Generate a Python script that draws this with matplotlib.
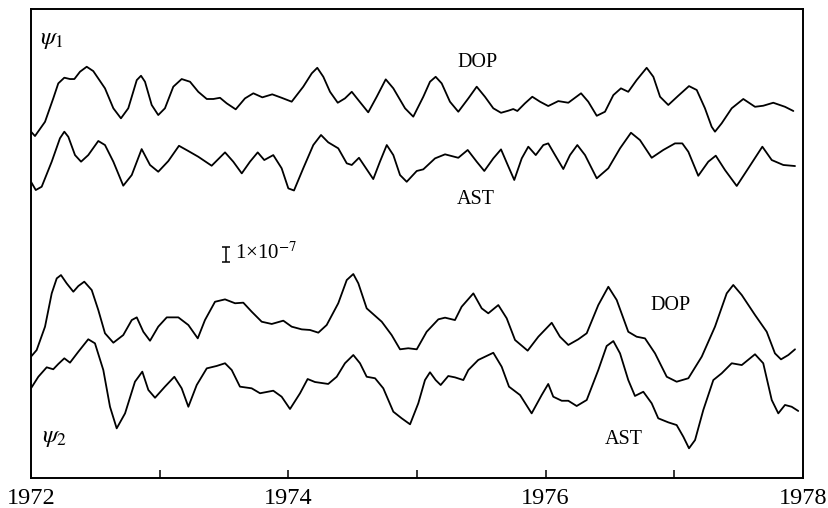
import numpy as np
import matplotlib
matplotlib.use("Agg")
import matplotlib.pyplot as plt

plt.rcParams['font.family'] = ['Liberation Serif', 'DejaVu Serif']
plt.rcParams['mathtext.fontset'] = 'stix'

t0 = 1972  # time axis: years since 1972, values in units of 1e-7 (curves offset)

# psi_1, DOP
dop1_t = [0.000, 0.031, 0.109, 0.173, 0.212, 0.259, 0.303, 0.337, 0.381, 0.433, 0.484, 0.575,
          0.640, 0.699, 0.756, 0.822, 0.855, 0.886, 0.938, 0.989, 1.041, 1.106, 1.171, 1.236,
          1.300, 1.366, 1.417, 1.469, 1.521, 1.591, 1.663, 1.728, 1.798, 1.875, 1.948, 2.026,
          2.116, 2.182, 2.225, 2.272, 2.324, 2.384, 2.440, 2.493, 2.544, 2.621, 2.687, 2.757,
          2.816, 2.907, 2.971, 3.049, 3.101, 3.145, 3.192, 3.256, 3.321, 3.399, 3.464, 3.528,
          3.593, 3.653, 3.710, 3.748, 3.780, 3.839, 3.896, 3.956, 4.020, 4.098, 4.176, 4.275,
          4.331, 4.397, 4.461, 4.526, 4.585, 4.642, 4.707, 4.785, 4.837, 4.889, 4.953, 5.031,
          5.114, 5.174, 5.238, 5.290, 5.316, 5.368, 5.446, 5.536, 5.627, 5.691, 5.769, 5.860, 5.925]
dop1_v = [23.09, 22.80, 23.75, 25.31, 26.31, 26.69, 26.60, 26.60, 27.09, 27.42, 27.13, 25.98,
          24.65, 23.98, 24.65, 26.53, 26.82, 26.42, 24.87, 24.20, 24.65, 26.09, 26.60, 26.42,
          25.75, 25.27, 25.27, 25.35, 24.98, 24.58, 25.31, 25.65, 25.38, 25.58, 25.35, 25.09,
          26.09, 26.98, 27.35, 26.75, 25.75, 25.02, 25.31, 25.75, 25.20, 24.38, 25.42, 26.58,
          25.98, 24.65, 24.09, 25.42, 26.42, 26.75, 26.31, 25.09, 24.42, 25.31, 26.09, 25.42,
          24.65, 24.35, 24.49, 24.60, 24.47, 24.98, 25.42, 25.09, 24.80, 25.13, 25.02, 25.65,
          25.09, 24.15, 24.42, 25.53, 25.98, 25.75, 26.53, 27.35, 26.75, 25.42, 24.87, 25.49,
          26.13, 25.87, 24.65, 23.42, 23.09, 23.65, 24.65, 25.27, 24.75, 24.82, 25.02, 24.75, 24.47]

# psi_1, AST
ast1_t = [0.000, 0.037, 0.083, 0.161, 0.225, 0.259, 0.290, 0.342, 0.389, 0.445, 0.523, 0.575,
          0.640, 0.717, 0.783, 0.860, 0.925, 0.989, 1.067, 1.150, 1.223, 1.300, 1.404, 1.508,
          1.572, 1.638, 1.702, 1.762, 1.813, 1.883, 1.948, 2.000, 2.044,
          2.116, 2.194, 2.254, 2.310, 2.388, 2.454, 2.493, 2.549, 2.596, 2.660, 2.712, 2.765,
          2.816, 2.868, 2.920, 2.998, 3.049, 3.140, 3.218, 3.321, 3.394, 3.464, 3.523, 3.593,
          3.653, 3.705, 3.756, 3.814, 3.865, 3.923, 3.982, 4.020, 4.073,
          4.137, 4.189, 4.246, 4.306, 4.397, 4.487, 4.578, 4.663, 4.733, 4.824, 4.914, 5.005,
          5.062, 5.109, 5.186, 5.264, 5.322, 5.394, 5.485, 5.575, 5.684, 5.757, 5.847, 5.938]
ast1_v = [19.75, 19.20, 19.42, 21.09, 22.65, 23.09, 22.75, 21.53, 21.09, 21.53, 22.47, 22.20,
          21.09, 19.49, 20.20, 21.93, 20.87, 20.42, 21.13, 22.15, 21.80, 21.42, 20.82, 21.71,
          21.09, 20.31, 21.09, 21.71, 21.20, 21.53, 20.65, 19.31, 19.17,
          20.65, 22.20, 22.87, 22.38, 21.98, 20.98, 20.87, 21.35, 20.75, 19.93, 21.09, 22.20,
          21.53, 20.20, 19.75, 20.47, 20.58, 21.31, 21.58, 21.35, 21.87, 21.09, 20.47, 21.31,
          21.91, 20.87, 19.87, 21.31, 22.09, 21.53, 22.20, 22.31, 21.53,
          20.60, 21.53, 22.20, 21.53, 19.98, 20.65, 21.98, 23.02, 22.53, 21.35, 21.87, 22.31,
          22.31, 21.75, 20.15, 21.09, 21.49, 20.53, 19.47, 20.65, 22.09, 21.20, 20.87, 20.80]

# psi_2, DOP
dop2_t = [0.000, 0.044, 0.109, 0.161, 0.200, 0.233, 0.277, 0.329, 0.368, 0.414, 0.472, 0.523,
          0.575, 0.640, 0.717, 0.783, 0.822, 0.873, 0.925, 0.989, 1.055, 1.145, 1.223, 1.296,
          1.352, 1.430, 1.508, 1.586, 1.650, 1.715, 1.793, 1.871, 1.961, 2.026,
          2.104, 2.168, 2.233, 2.298, 2.388, 2.454, 2.505, 2.544, 2.609, 2.726, 2.803, 2.868,
          2.932, 2.998, 3.075, 3.166, 3.218, 3.295, 3.347, 3.438, 3.503, 3.554, 3.632, 3.697,
          3.762, 3.860, 3.943, 4.047,
          4.111, 4.176, 4.254, 4.319, 4.409, 4.487, 4.552, 4.642, 4.707, 4.772, 4.850, 4.941,
          5.018, 5.109, 5.213, 5.316, 5.407, 5.458, 5.524, 5.627, 5.718, 5.782, 5.829, 5.886, 5.938]
dop2_v = [8.09, 8.53, 10.09, 12.31, 13.31, 13.53, 12.98, 12.42, 12.80, 13.09, 12.53, 11.20,
          9.65, 9.02, 9.53, 10.53, 10.71, 9.75, 9.15, 10.09, 10.71, 10.71, 10.20, 9.31,
          10.53, 11.75, 11.91, 11.65, 11.69, 11.09, 10.42, 10.27, 10.49, 10.09,
          9.91, 9.87, 9.69, 10.20, 11.65, 13.20, 13.60, 12.98, 11.31, 10.42, 9.53, 8.58,
          8.65, 8.58, 9.75, 10.58, 10.69, 10.53, 11.42, 12.31, 11.31, 10.98, 11.53, 10.65,
          9.20, 8.49, 9.42, 10.35,
          9.42, 8.87, 9.25, 9.65, 11.53, 12.75, 11.87, 9.75, 9.42, 9.31, 8.31, 6.75,
          6.42, 6.65, 8.09, 10.09, 12.31, 12.87, 12.20, 10.87, 9.75, 8.31, 7.91, 8.20, 8.58]

# psi_2, AST
ast2_t = [0.000, 0.057, 0.122, 0.173, 0.212, 0.259, 0.303, 0.368, 0.445, 0.497, 0.562, 0.614,
          0.666, 0.731, 0.808, 0.865, 0.912, 0.964, 1.041, 1.114, 1.171, 1.223, 1.288, 1.366,
          1.443, 1.508, 1.560, 1.624, 1.715, 1.780, 1.883, 1.948, 2.013,
          2.091, 2.150, 2.207, 2.310, 2.376, 2.440, 2.505, 2.557, 2.609, 2.674, 2.738, 2.816,
          2.881, 2.946, 3.010, 3.062, 3.101, 3.145, 3.184, 3.243, 3.295, 3.360, 3.399, 3.476,
          3.593, 3.658, 3.715, 3.801, 3.891, 3.969, 4.020,
          4.059, 4.125, 4.176, 4.241, 4.319, 4.409, 4.474, 4.526, 4.578, 4.642, 4.694, 4.759,
          4.824, 4.875, 4.953, 5.018, 5.070, 5.114, 5.161, 5.225, 5.303, 5.368, 5.446, 5.524,
          5.627, 5.691, 5.757, 5.808, 5.860, 5.912, 5.963]
ast2_v = [5.98, 6.75, 7.38, 7.25, 7.60, 7.98, 7.69, 8.42, 9.25, 8.98, 7.20, 4.75,
          3.31, 4.31, 6.42, 7.09, 5.87, 5.35, 6.09, 6.75, 5.98, 4.75, 6.20, 7.31,
          7.47, 7.65, 7.20, 6.09, 5.98, 5.65, 5.82, 5.42, 4.60,
          5.65, 6.60, 6.40, 6.27, 6.75, 7.65, 8.20, 7.65, 6.75, 6.65, 5.98, 4.42,
          3.98, 3.58, 4.98, 6.53, 7.05, 6.53, 6.20, 6.80, 6.71, 6.53, 7.20, 7.87,
          8.35, 7.42, 6.09, 5.53, 4.31, 5.53, 6.27,
          5.42, 5.15, 5.15, 4.80, 5.20, 7.20, 8.80, 9.13, 8.31, 6.53, 5.47, 5.75,
          4.98, 3.98, 3.71, 3.53, 2.75, 1.98, 2.53, 4.53, 6.53, 6.98, 7.65, 7.53,
          8.25, 7.65, 5.20, 4.31, 4.87, 4.75, 4.47]

year_ticks = [1972, 1973, 1974, 1975, 1976, 1977, 1978]
year_labels = ['1972', '', '1974', '', '1976', '', '1978']

fig = plt.figure(figsize=(8.29, 5.08), dpi=100)
ax = fig.add_axes([31 / 829, 30 / 508, 772 / 829, 469 / 508])

for tt, vv in [(dop1_t, dop1_v), (ast1_t, ast1_v), (dop2_t, dop2_v), (ast2_t, ast2_v)]:
    ax.plot(t0 + np.array(tt), vv, color='black', lw=1.3,
            solid_joinstyle='round', solid_capstyle='round')

ax.set_xlim(1972, 1978)
ax.set_ylim(0, 31.27)
ax.set_xticks(year_ticks)
ax.set_xticklabels(year_labels, fontsize=17.5)
ax.tick_params(axis='x', direction='in', length=6, width=1.1, pad=7, top=False)
ax.set_yticks([])
for s in ax.spines.values():
    s.set_linewidth(1.4)

# curve labels
ax.text(1972.16, 29.2, r'$\psi_1$', fontsize=18, ha='center', va='center')
ax.text(1972.18, 2.7, r'$\psi_2$', fontsize=18, ha='center', va='center')
ax.text(1975.474, 27.73, 'DOP', fontsize=14.5, ha='center', va='center')
ax.text(1975.458, 18.6, 'AST', fontsize=14.5, ha='center', va='center')
ax.text(1976.974, 11.53, 'DOP', fontsize=14.5, ha='center', va='center')
ax.text(1976.609, 2.6, 'AST', fontsize=14.5, ha='center', va='center')

# scale bar: 1e-7
ax.errorbar([1973.516], [14.9], yerr=0.5, color='black', capsize=3, lw=1.1, capthick=1.1)
ax.text(1973.585, 15.0, r'1×10$^{-7}$', fontsize=15, ha='left', va='center')

fig.savefig('out.png', dpi=100)
